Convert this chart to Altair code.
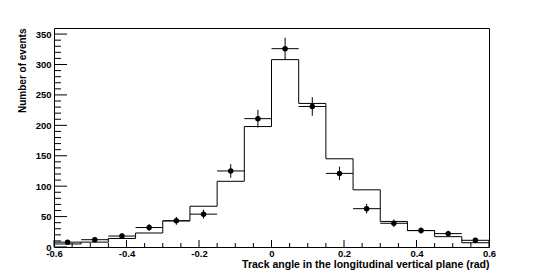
import altair as alt
import pandas as pd

# ---- data ----
bin_centers = [-0.5625, -0.4875, -0.4125, -0.3375, -0.2625, -0.1875, -0.1125, -0.0375,
               0.0375, 0.1125, 0.1875, 0.2625, 0.3375, 0.4125, 0.4875, 0.5625]
data_counts = [8, 12, 18, 32, 43, 54, 125, 211, 326, 231, 121, 63, 39, 27, 22, 11]
mc_counts = [5, 8, 14, 23, 43, 67, 108, 198, 308, 236, 145, 94, 42, 27, 17, 7]

x_tick_labels = [-0.6, -0.4, -0.2, 0, 0.2, 0.4, 0.6]
x_minor_ticks = [-0.55, -0.5, -0.45, -0.35, -0.3, -0.25, -0.15, -0.1, -0.05,
                 0.05, 0.1, 0.15, 0.25, 0.3, 0.35, 0.45, 0.5, 0.55]
y_tick_labels = [0, 50, 100, 150, 200, 250, 300, 350]
y_minor_ticks = [10, 20, 30, 40, 60, 70, 80, 90, 110, 120, 130, 140, 160, 170, 180, 190,
                 210, 220, 230, 240, 260, 270, 280, 290, 310, 320, 330, 340]

x_title = "Track angle in the longitudinal vertical plane (rad)"
y_title = "Number of events"

# ---- tables ----
half = (bin_centers[1] - bin_centers[0]) / 2
edges = [c - half for c in bin_centers] + [bin_centers[-1] + half]
hist_df = pd.DataFrame({"x": edges, "y": mc_counts + [mc_counts[-1]]})

pts = pd.DataFrame({"x": bin_centers, "y": data_counts})
pts["xlo"] = pts["x"] - half
pts["xhi"] = pts["x"] + half
pts["ylo"] = pts["y"] - pts["y"] ** 0.5
pts["yhi"] = pts["y"] + pts["y"] ** 0.5

W, H = 435, 219
FONT = "Liberation Sans"

xs = alt.Scale(domain=[-0.6, 0.6], nice=False, zero=False)
ys = alt.Scale(domain=[0, 360], nice=False)

x_axis = alt.Axis(
    values=x_tick_labels, grid=False, ticks=False, domain=False,
    labelExpr="datum.value == 0 ? '0' : (datum.value < 0 ? '-' : '') + format(abs(datum.value), '.1f')",
    labelFlush=False, labelOverlap=False, labelPadding=1,
    labelFont=FONT, labelFontWeight="bold", labelFontSize=9.5, labelColor="black",
    title=x_title, titleFont=FONT, titleFontWeight="bold", titleFontSize=10.5, titleColor="black",
    titleAlign="right", titleX=W, titleY=20, titleBaseline="alphabetic",
)
y_axis = alt.Axis(
    values=y_tick_labels, grid=False, ticks=False, domain=False, format="d",
    labelFlush=False, labelOverlap=False, labelPadding=3,
    labelFont=FONT, labelFontWeight="bold", labelFontSize=9.5, labelColor="black",
    title=y_title, titleFont=FONT, titleFontWeight="bold", titleFontSize=10, titleColor="black",
    titleAngle=270, titleAlign="right", titleX=-29, titleY=0, titleBaseline="alphabetic",
)


def X(field):
    return alt.X(field, scale=xs, axis=x_axis, title=x_title)


def Y(field):
    return alt.Y(field, scale=ys, axis=y_axis, title=y_title)


hist = alt.Chart(hist_df).mark_line(interpolate="step-after", color="black", strokeWidth=1).encode(
    x=X("x:Q"), y=Y("y:Q"),
)
xerr = alt.Chart(pts).mark_rule(color="black", strokeWidth=1).encode(
    x=X("xlo:Q"), x2="xhi:Q", y=Y("y:Q"),
)
yerr = alt.Chart(pts).mark_rule(color="black", strokeWidth=1).encode(
    x=X("x:Q"), y=Y("ylo:Q"), y2="yhi:Q",
)
dots = alt.Chart(pts).mark_circle(color="black", opacity=1, size=30).encode(
    x=X("x:Q"), y=Y("y:Q"),
)

ymaj = alt.Chart(pd.DataFrame({"v": y_tick_labels})).mark_rule(color="black").encode(
    y=Y("v:Q"), x=alt.value(0), x2=alt.value(13))
ymin = alt.Chart(pd.DataFrame({"v": y_minor_ticks})).mark_rule(color="black").encode(
    y=Y("v:Q"), x=alt.value(0), x2=alt.value(7))
xmaj = alt.Chart(pd.DataFrame({"v": x_tick_labels})).mark_rule(color="black").encode(
    x=X("v:Q"), y=alt.value(H), y2=alt.value(H - 7))
xmin = alt.Chart(pd.DataFrame({"v": x_minor_ticks})).mark_rule(color="black").encode(
    x=X("v:Q"), y=alt.value(H), y2=alt.value(H - 4))

chart = alt.layer(hist, xerr, yerr, dots, ymaj, ymin, xmaj, xmin).properties(
    width=W, height=H,
    autosize=alt.AutoSizeParams(type="none"),
    padding={"left": 46, "top": 20, "right": 48, "bottom": 25},
    background="white",
).configure_view(stroke="black", strokeWidth=1)

chart.save("out.html", embed_options={"renderer": "svg", "actions": False})
